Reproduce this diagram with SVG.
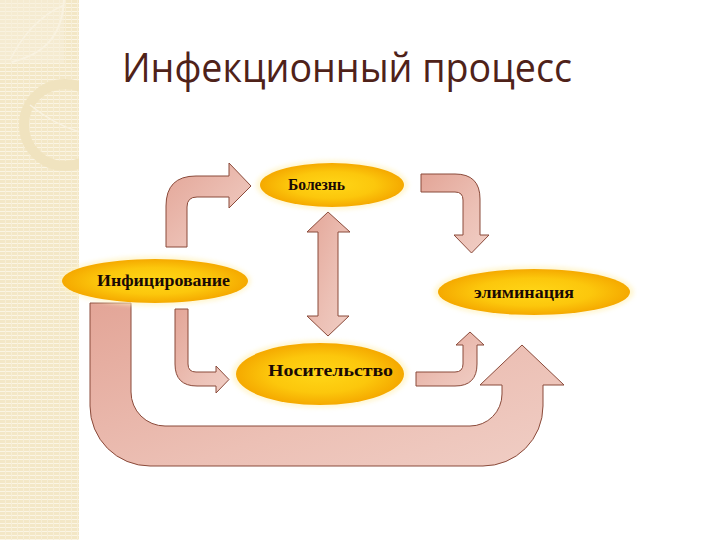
<svg xmlns="http://www.w3.org/2000/svg" width="720" height="540" viewBox="0 0 720 540">
<defs>
  <pattern id="stripes" width="6" height="4" patternUnits="userSpaceOnUse">
    <rect width="6" height="4" fill="#f3e7c6"/>
    <rect y="3" width="6" height="1" fill="#fbf5e4"/>
    <rect x="5" width="1" height="4" fill="#f7eed6"/>
  </pattern>
  <clipPath id="stripClip"><rect x="0" y="0" width="79" height="540"/></clipPath>
  <radialGradient id="ellG" cx="0.5" cy="0.5" r="0.5">
    <stop offset="0" stop-color="#ffd617"/>
    <stop offset="0.6" stop-color="#fcc70c"/>
    <stop offset="1" stop-color="#f5a900"/>
  </radialGradient>
  <linearGradient id="arrG" x1="0" y1="0" x2="1" y2="1">
    <stop offset="0" stop-color="#e3a597"/>
    <stop offset="0.6" stop-color="#ecc0b5"/>
    <stop offset="1" stop-color="#f0cec5"/>
  </linearGradient>
  <filter id="glow" x="-20%" y="-30%" width="140%" height="160%">
    <feGaussianBlur stdDeviation="2"/>
  </filter>
  <style>
    .arrow { fill: url(#arrG); stroke: #8a4a3a; stroke-width: 1; stroke-linejoin: miter; }
    .ell { fill: url(#ellG); }
    .lbl { font-family: "Liberation Serif", "Times New Roman", serif; font-weight: bold; font-size: 16px; fill: #1a0a05; }
    .title { font-family: "Open Sans", "Liberation Sans", sans-serif; font-size: 40px; fill: #4f2219; }
  </style>
</defs>

<g id="background">
  <rect width="720" height="540" fill="#ffffff"/>
  <rect x="0" y="0" width="79" height="540" fill="url(#stripes)"/>
  <g clip-path="url(#stripClip)" fill="none">
    <rect x="0" y="0" width="64" height="63" fill="#f8f0dc" opacity="0.5"/>
    <path d="M12,62 C40,55 62,40 64,0" stroke="#f9f2e0" stroke-width="2"/>
    <path d="M10,60 Q30,20 64,5" stroke="#f9f2e0" stroke-width="1.5"/>
    <circle cx="65" cy="125" r="41" stroke="#f0e3bf" stroke-width="10"/>
    <path d="M30,105 Q55,125 80,132" stroke="#f9f2e0" stroke-width="1.5"/>
  </g>
</g>

<g id="title">
  <text class="title" x="122" y="82" textLength="450" lengthAdjust="spacingAndGlyphs">Инфекционный процесс</text>
</g>

<g id="connectors">
  <path class="arrow" d="M166,247 L166,206 Q166,176 196,176 L229,176 L229,163 L251,186 L229,208 L229,197 L197,197 Q187,197 187,207 L187,247 Z"/>
  <path class="arrow" d="M421,174 L455,174 Q480,174 480,199 L480,235 L489,235 L471.5,253 L454,235 L463,235 L463,200 Q463,192 455,192 L421,192 Z"/>
  <path class="arrow" d="M328,212 L350,232 L338,232 L338,316 L349,316 L328,336 L307,316 L318,316 L318,232 L307,232 Z"/>
  <path class="arrow" d="M175,309 L188,309 L188,364 Q188,372 196,372 L216,372 L216,366 L229,379.5 L216,393 L216,386 L197,386 Q175,386 175,364 Z"/>
  <path class="arrow" d="M416,372 L455,372 Q463,372 463,364 L463,345 L456,345 L470,332 L484,345 L477,345 L477,364 Q477,386 455,386 L416,386 Z"/>
  <path class="arrow" d="M90,303 L131,303 L131,392 A34,34 0 0 0 165,426 L470,426 A32,32 0 0 0 502,394 L502,385 L480,385 L522,345 L564,385 L543,385 L543,406 A60,60 0 0 1 483,466 L150,466 A60,60 0 0 1 90,406 Z"/>
</g>

<g id="node-bolezn">
  <ellipse cx="332" cy="185" rx="76" ry="25" fill="#fff3c0" opacity="0.7" filter="url(#glow)"/>
  <ellipse class="ell" cx="332" cy="185" rx="72" ry="22"/>
  <text class="lbl" x="288" y="190" textLength="57" lengthAdjust="spacingAndGlyphs">Болезнь</text>
</g>

<g id="node-inficirovanie">
  <ellipse cx="155" cy="281" rx="96" ry="25" fill="#fff3c0" opacity="0.7" filter="url(#glow)"/>
  <ellipse class="ell" cx="155" cy="281" rx="93" ry="22"/>
  <text class="lbl" x="97" y="286" textLength="133" lengthAdjust="spacingAndGlyphs">Инфицирование</text>
</g>

<g id="node-eliminaciya">
  <ellipse cx="534" cy="292" rx="100" ry="26" fill="#fff3c0" opacity="0.7" filter="url(#glow)"/>
  <ellipse class="ell" cx="534" cy="292" rx="96" ry="23"/>
  <text class="lbl" x="474" y="298" textLength="100" lengthAdjust="spacingAndGlyphs">элиминация</text>
</g>

<g id="node-nositelstvo">
  <ellipse cx="320" cy="374" rx="88" ry="34" fill="#fff3c0" opacity="0.7" filter="url(#glow)"/>
  <ellipse class="ell" cx="320" cy="374" rx="84" ry="31"/>
  <text class="lbl" x="268" y="376" textLength="125" lengthAdjust="spacingAndGlyphs">Носительство</text>
</g>
</svg>
